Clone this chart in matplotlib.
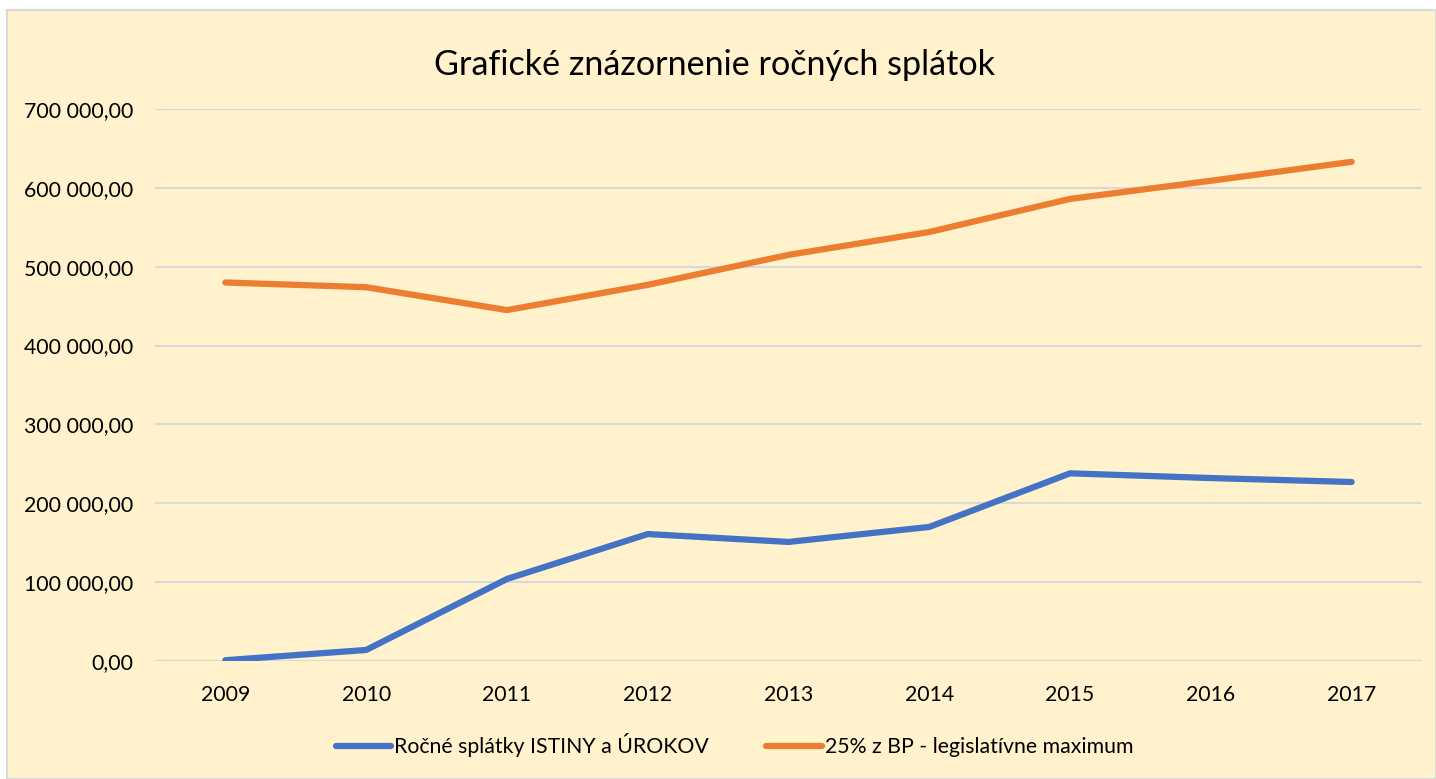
import matplotlib
matplotlib.use("Agg")
import matplotlib.pyplot as plt
from matplotlib.patches import Rectangle
from matplotlib.ticker import FuncFormatter

years = ["2009", "2010", "2011", "2012", "2013", "2014", "2015", "2016", "2017"]
splatky = [1000, 14000, 104000, 161000, 151000, 170000, 238000, 232000, 227000]
maximum = [480000, 474000, 445000, 477000, 515000, 544000, 586000, 609000, 633000]
series_labels = ["Ročné splátky ISTINY a ÚROKOV", "25% z BP - legislatívne maximum"]
title = "Grafické znázornenie ročných splátok"

W, H = 1436, 779
plt.rcParams['font.family'] = ['Lato', 'DejaVu Sans']
fig = plt.figure(figsize=(W / 100, H / 100), dpi=100)
fig.patch.set_facecolor("white")
fig.patches.append(Rectangle((7 / W, 0), 1 - 7 / W, 1 - 10 / H, transform=fig.transFigure,
                             facecolor="#FFF2CC", edgecolor="#D9D9D9", linewidth=1.5, zorder=-10))

ax = fig.add_axes([155 / W, 1 - 661 / H, (1422 - 155) / W, (661 - 109) / H])
ax.set_facecolor("none")
x = list(range(len(years)))
ax.plot(x, splatky, color="#4472C4", linewidth=4.5, solid_capstyle="round", solid_joinstyle="round", label=series_labels[0], zorder=3)
ax.plot(x, maximum, color="#ED7D31", linewidth=4.5, solid_capstyle="round", solid_joinstyle="round", label=series_labels[1], zorder=3)

ax.set_xlim(-0.5, len(years) - 0.5)
ax.set_ylim(0, 700000)
ax.set_yticks(range(0, 700001, 100000))
ax.yaxis.set_major_formatter(FuncFormatter(lambda v, p: f"{v:,.2f}".replace(",", " ").replace(".", ",")))
ax.set_xticks(x)
ax.set_xticklabels(years)
ax.grid(axis="y", color="#D9D9D9", linewidth=1.5, zorder=0)
ax.set_axisbelow(True)
for s in ax.spines.values():
    s.set_visible(False)
ax.tick_params(axis="both", length=0, labelsize=15.3, colors="black")
ax.tick_params(axis="y", pad=15.5)
ax.tick_params(axis="x", pad=17)

fig.text(715 / W, 1 - 65 / H, title, ha="center", va="center", fontsize=24.6)

fig.legend(loc="center", bbox_to_anchor=(734.5 / W, 1 - 745 / H), ncol=2, frameon=False,
           fontsize=15.3, handlelength=2.6, handletextpad=0.15, columnspacing=2.7)

fig.savefig("out.png", dpi=100, facecolor=fig.get_facecolor())
